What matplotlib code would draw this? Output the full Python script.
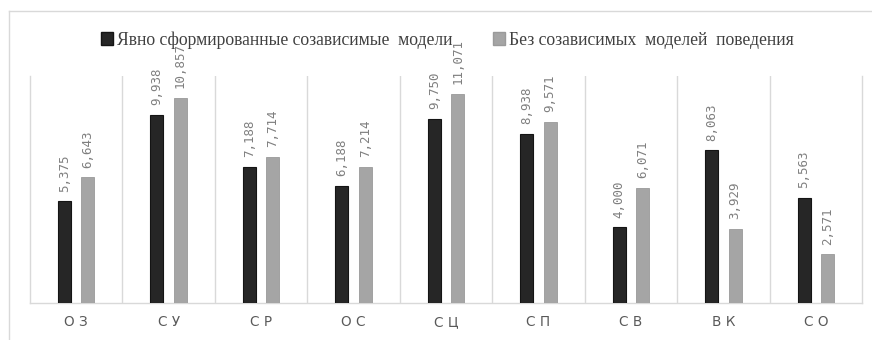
import matplotlib
matplotlib.use("Agg")
import matplotlib.pyplot as plt
from matplotlib.lines import Line2D
from matplotlib.patches import Patch

# Data
categories = ["ОЗ", "СУ", "СР", "ОС", "СЦ", "СП", "СВ", "ВК", "СО"]
explicit_models = [5.375, 9.938, 7.188, 6.188, 9.750, 8.938, 4.000, 8.063, 5.563]
no_models = [6.643, 10.857, 7.714, 7.214, 11.071, 9.571, 6.071, 3.929, 2.571]
series_names = ["Явно сформированные созависимые  модели",
                "Без созависимых  моделей  поведения"]

W, H = 872, 340
fig = plt.figure(figsize=(W / 100, H / 100), dpi=100)
ax = fig.add_axes([30 / W, (H - 303) / H, 832 / W, (303 - 76) / H])

dark, dark_edge = "#262626", "#141414"
light, light_edge = "#a5a5a5", "#9a9a9a"
grid_c = "#d9d9d9"

x = list(range(len(categories)))
off, bw = 0.127, 0.14
b1 = ax.bar([i - off for i in x], explicit_models, width=bw, color=dark,
            edgecolor=dark_edge, linewidth=0.8, zorder=3)
b2 = ax.bar([i + off for i in x], no_models, width=bw, color=light,
            edgecolor=light_edge, linewidth=0.6, zorder=3)

for bars, vals in ((b1, explicit_models), (b2, no_models)):
    for rect, v in zip(bars, vals):
        ax.annotate(f"{v:.3f}".replace(".", ","),
                    xy=(rect.get_x() + rect.get_width() / 2, v),
                    xytext=(0, 7), textcoords="offset points",
                    rotation=90, ha="center", va="bottom",
                    family="DejaVu Sans Mono", fontsize=9, color="#7f7f7f",
                    annotation_clip=False, zorder=6)

ax.set_xlim(-0.5, len(categories) - 0.5)
ax.set_ylim(0, 12)
ax.set_yticks([])
ax.set_xticks(x)
ax.set_xticklabels([" ".join(c) for c in categories], fontsize=9.8, color="#595959")
ax.set_xticks([i + 0.5 for i in x[:-1]], minor=True)
ax.tick_params(axis="x", which="both", length=0, pad=9)
ax.grid(axis="x", which="minor", color=grid_c, linewidth=1.0, zorder=0)
for side in ("left", "right", "bottom"):
    ax.spines[side].set_color(grid_c)
    ax.spines[side].set_linewidth(1.0)
ax.spines["top"].set_visible(False)

# Outer chart frame
fig.add_artist(Line2D([9 / W, 1.0], [1 - 11 / H, 1 - 11 / H], color=grid_c, lw=1.0))
fig.add_artist(Line2D([9 / W, 9 / W], [0, 1 - 11 / H], color=grid_c, lw=1.0))

handles = [Patch(facecolor=dark, edgecolor=dark_edge),
           Patch(facecolor=light, edgecolor=light_edge)]
leg = fig.legend(handles, series_names, loc="center", bbox_to_anchor=(0.513, 1 - 40 / H),
                 ncol=2, frameon=False, handlelength=0.7, handleheight=0.7,
                 handletextpad=0.2, columnspacing=2.3,
                 prop={"family": "Liberation Serif", "size": 12.7})
for t in leg.get_texts():
    t.set_color("#404040")

fig.savefig("out.png", dpi=100)
